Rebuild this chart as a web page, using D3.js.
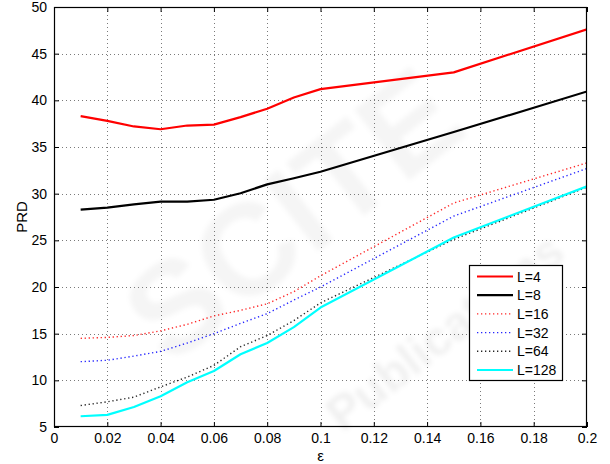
<!DOCTYPE html>
<html>
<head>
<meta charset="utf-8">
<script src="https://cdn.jsdelivr.net/npm/d3@7"></script>
<style>
  html, body { margin: 0; padding: 0; background: #fff; }
  svg { display: block; }
  text { font-family: "Liberation Sans", Arial, Helvetica, sans-serif; }
</style>
</head>
<body>
<svg id="chart" width="610" height="464"></svg>
<script>
// Sampled epsilon values
const epsilon = [0.01, 0.02, 0.03, 0.04, 0.05, 0.06, 0.07, 0.08, 0.09, 0.10, 0.15, 0.20];

// PRD for each block length L
const prdL4   = [38.3, 37.8, 37.2, 36.9, 37.3, 37.4, 38.2, 39.1, 40.3, 41.2, 43.0, 47.6];
const prdL8   = [28.3, 28.5, 28.85, 29.15, 29.15, 29.35, 30.05, 31.0, 31.65, 32.35, 36.6, 40.95];
const prdL16  = [14.5, 14.6, 14.8, 15.3, 16.0, 16.9, 17.5, 18.2, 19.5, 21.2, 29.0, 33.3];
const prdL32  = [12.0, 12.15, 12.6, 13.1, 14.0, 15.0, 16.1, 17.15, 18.6, 20.0, 27.6, 32.7];
const prdL64  = [7.3, 7.7, 8.2, 9.3, 10.35, 11.6, 13.6, 14.8, 16.4, 18.3, 25.1, 30.7];
const prdL128 = [6.15, 6.3, 7.15, 8.3, 9.8, 11.0, 12.8, 14.0, 15.7, 17.8, 25.3, 30.8];

const seriesLabels = ["L=4", "L=8", "L=16", "L=32", "L=64", "L=128"];
const seriesValues = [prdL4, prdL8, prdL16, prdL32, prdL64, prdL128];
const seriesColors = ["#ff0000", "#000000", "#ff0000", "#0000ff", "#000000", "#00ffff"];
const seriesDotted = [false, false, true, true, true, false];

const xTicks = [0, 0.02, 0.04, 0.06, 0.08, 0.1, 0.12, 0.14, 0.16, 0.18, 0.2];
const yTicks = [5, 10, 15, 20, 25, 30, 35, 40, 45, 50];

const svg = d3.select("#chart");
const W = 610, H = 464;
const margin = {top: 7, right: 23, bottom: 37, left: 54};
const innerW = W - margin.left - margin.right;
const innerH = H - margin.top - margin.bottom;

svg.append("rect").attr("width", W).attr("height", H).attr("fill", "#fff");

// faint publisher watermark behind the plot
const defs = svg.append("defs");
defs.append("filter").attr("id", "soft")
  .append("feGaussianBlur").attr("stdDeviation", 2.5);
const wm = svg.append("g").attr("filter", "url(#soft)").attr("pointer-events", "none");
wm.append("text")
  .attr("transform", "translate(320,250) rotate(-38)")
  .attr("text-anchor", "middle")
  .attr("font-size", 130).attr("font-weight", "bold")
  .attr("fill", "#000").attr("fill-opacity", 0.04)
  .text("SCITE");
wm.append("text")
  .attr("transform", "translate(455,345) rotate(-38)")
  .attr("text-anchor", "middle")
  .attr("font-size", 48).attr("font-weight", "bold")
  .attr("fill", "#000").attr("fill-opacity", 0.06)
  .text("Publications");

const g = svg.append("g").attr("transform", `translate(${margin.left},${margin.top})`);

const x = d3.scaleLinear().domain([0, 0.2]).range([0, innerW]);
const y = d3.scaleLinear().domain([5, 50]).range([innerH, 0]);

// dotted grid on interior ticks
const grid = g.append("g").attr("stroke", "#7a7a7a").attr("stroke-width", 1)
  .attr("stroke-dasharray", "1,3");
grid.selectAll(".gx").data(xTicks.slice(1, -1)).join("line")
  .attr("x1", d => Math.round(x(d)) + 0.5).attr("x2", d => Math.round(x(d)) + 0.5)
  .attr("y1", 0).attr("y2", innerH);
grid.selectAll(".gy").data(yTicks.slice(1, -1)).join("line")
  .attr("y1", d => Math.round(y(d)) + 0.5).attr("y2", d => Math.round(y(d)) + 0.5)
  .attr("x1", 0).attr("x2", innerW);

// data lines
const clip = defs.append("clipPath").attr("id", "plotclip");
clip.append("rect").attr("width", innerW).attr("height", innerH);

const line = d3.line().x((d, i) => x(epsilon[i])).y(d => y(d));
const lines = g.append("g").attr("clip-path", "url(#plotclip)");
seriesValues.forEach((vals, k) => {
  lines.append("path")
    .datum(vals)
    .attr("d", line)
    .attr("fill", "none")
    .attr("stroke", seriesColors[k])
    .attr("stroke-width", seriesDotted[k] ? 1.4 : 2.2)
    .attr("stroke-dasharray", seriesDotted[k] ? "1.3,2.7" : null)
    .attr("stroke-opacity", seriesDotted[k] ? 0.85 : 1)
    .attr("stroke-linejoin", "round");
});

// axes with inward ticks on all four sides
const fmtX = d => String(+d.toFixed(2));
const axisFont = 14;
function styleAxis(sel) {
  sel.select(".domain").remove();
  sel.selectAll(".tick line").attr("stroke", "#000");
  sel.selectAll("text").attr("font-size", axisFont).attr("fill", "#000")
    .attr("font-family", "'Liberation Sans', Arial, sans-serif");
}
g.append("g").attr("transform", `translate(0,${innerH})`)
  .call(d3.axisBottom(x).tickValues(xTicks).tickFormat(fmtX).tickSize(-5).tickPadding(6))
  .call(styleAxis);
g.append("g")
  .call(d3.axisTop(x).tickValues(xTicks).tickFormat("").tickSize(-5))
  .call(styleAxis);
g.append("g")
  .call(d3.axisLeft(y).tickValues(yTicks).tickFormat(d3.format("d")).tickSize(-5).tickPadding(7))
  .call(styleAxis);
g.append("g").attr("transform", `translate(${innerW},0)`)
  .call(d3.axisRight(y).tickValues(yTicks).tickFormat("").tickSize(-5))
  .call(styleAxis);

// box
g.append("rect").attr("x", 0.5).attr("y", 0.5)
  .attr("width", innerW - 1).attr("height", innerH - 1)
  .attr("fill", "none").attr("stroke", "#000").attr("stroke-width", 1.2);

// axis titles
svg.append("text")
  .attr("x", margin.left + innerW / 2).attr("y", 461)
  .attr("text-anchor", "middle").attr("font-size", 15).text("ε");
svg.append("text")
  .attr("transform", `translate(27,${margin.top + innerH / 2}) rotate(-90)`)
  .attr("text-anchor", "middle").attr("font-size", 15).text("PRD");

// legend
const leg = svg.append("g").attr("transform", "translate(469,265)");
leg.append("rect").attr("x", 0.5).attr("y", 0.5).attr("width", 93).attr("height", 115)
  .attr("fill", "#fff").attr("stroke", "#000").attr("stroke-width", 1.2);
seriesLabels.forEach((lab, k) => {
  const cy = 11.5 + k * 18.7;
  leg.append("line")
    .attr("x1", 8).attr("x2", 44).attr("y1", cy).attr("y2", cy)
    .attr("stroke", seriesColors[k])
    .attr("stroke-width", seriesDotted[k] ? 1.4 : 2.2)
    .attr("stroke-dasharray", seriesDotted[k] ? "1.3,2.7" : null)
    .attr("stroke-opacity", seriesDotted[k] ? 0.85 : 1);
  leg.append("text")
    .attr("x", 48).attr("y", cy).attr("dy", "0.36em")
    .attr("font-size", 14).text(lab);
});
</script>
</body>
</html>
